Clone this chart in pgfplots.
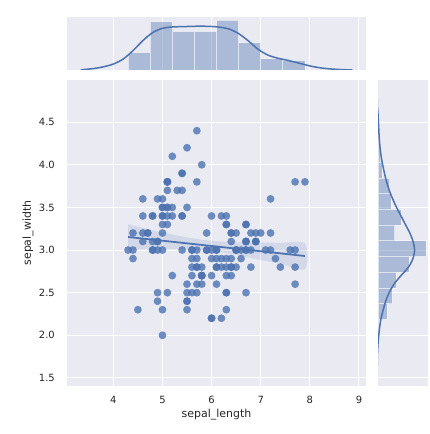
\documentclass[border=0pt]{standalone}
\usepackage{pgfplots}
\pgfplotsset{compat=1.18}
\usepackage{fontspec}
\setmainfont{DejaVu Sans}
\definecolor{sbbg}{HTML}{EAEAF2}
\definecolor{sbblue}{HTML}{4C72B0}
\definecolor{sbtext}{HTML}{262626}
\pgfplotsset{
  sbbase/.style={
    scale only axis,
    axis background/.style={fill=sbbg},
    axis line style={draw=none},
    major tick length=0pt,
    tick style={draw=none},
    major grid style={white, line width=1bp},
    ticklabel style={font=\fontsize{10}{12}\selectfont, text=sbtext, inner sep=0pt},
    label style={font=\fontsize{11}{13}\selectfont, text=sbtext},
  },
}
\begin{document}
\begin{tikzpicture}
\useasboundingbox (0,0) rectangle (430bp,434bp);
% main joint axis
\begin{axis}[sbbase,
  at={(67bp,48bp)}, anchor=south west,
  width=299bp, height=306bp,
  xmin=3.057, xmax=9.143, ymin=1.405, ymax=4.995,
  grid=major,
  xtick={4,5,6,7,8,9}, xticklabels={4,5,6,7,8,9},
  ytick={1.5,2.0,2.5,3.0,3.5,4.0,4.5},
  yticklabels={1.5,2.0,2.5,3.0,3.5,4.0,4.5},
  xticklabel style={anchor=center, yshift=-14bp},
  yticklabel style={anchor=east, xshift=-12bp},
  xlabel={sepal\_length}, ylabel={sepal\_width},
  x label style={at={(axis description cs:0.5,-0.0948)}, anchor=center},
  y label style={at={(axis description cs:-0.1304,0.5)}, anchor=center},
]
\addplot[only marks, color=sbblue, mark=*, mark size=3.9bp, mark options={draw=sbblue, fill=sbblue, draw opacity=0, fill opacity=0.8}] coordinates {
(5.1,3.5)(4.9,3.0)(4.7,3.2)(4.6,3.1)(5.0,3.6)(5.4,3.9)(4.6,3.4)(5.0,3.4)(4.4,2.9)(4.9,3.1)
(5.4,3.7)(4.8,3.4)(4.8,3.0)(4.3,3.0)(5.8,4.0)(5.7,4.4)(5.4,3.9)(5.1,3.5)(5.7,3.8)(5.1,3.8)
(5.4,3.4)(5.1,3.7)(4.6,3.6)(5.1,3.3)(4.8,3.4)(5.0,3.0)(5.0,3.4)(5.2,3.5)(5.2,3.4)(4.7,3.2)
(4.8,3.1)(5.4,3.4)(5.2,4.1)(5.5,4.2)(4.9,3.1)(5.0,3.2)(5.5,3.5)(4.9,3.6)(4.4,3.0)(5.1,3.4)
(5.0,3.5)(4.5,2.3)(4.4,3.2)(5.0,3.5)(5.1,3.8)(4.8,3.0)(5.1,3.8)(4.6,3.2)(5.3,3.7)(5.0,3.3)
(7.0,3.2)(6.4,3.2)(6.9,3.1)(5.5,2.3)(6.5,2.8)(5.7,2.8)(6.3,3.3)(4.9,2.4)(6.6,2.9)(5.2,2.7)
(5.0,2.0)(5.9,3.0)(6.0,2.2)(6.1,2.9)(5.6,2.9)(6.7,3.1)(5.6,3.0)(5.8,2.7)(6.2,2.2)(5.6,2.5)
(5.9,3.2)(6.1,2.8)(6.3,2.5)(6.1,2.8)(6.4,2.9)(6.6,3.0)(6.8,2.8)(6.7,3.0)(6.0,2.9)(5.7,2.6)
(5.5,2.4)(5.5,2.4)(5.8,2.7)(6.0,2.7)(5.4,3.0)(6.0,3.4)(6.7,3.1)(6.3,2.3)(5.6,3.0)(5.5,2.5)
(5.5,2.6)(6.1,3.0)(5.8,2.6)(5.0,2.3)(5.6,2.7)(5.7,3.0)(5.7,2.9)(6.2,2.9)(5.1,2.5)(5.7,2.8)
(6.3,3.3)(5.8,2.7)(7.1,3.0)(6.3,2.9)(6.5,3.0)(7.6,3.0)(4.9,2.5)(7.3,2.9)(6.7,2.5)(7.2,3.6)
(6.5,3.2)(6.4,2.7)(6.8,3.0)(5.7,2.5)(5.8,2.8)(6.4,3.2)(6.5,3.0)(7.7,3.8)(7.7,2.6)(6.0,2.2)
(6.9,3.2)(5.6,2.8)(7.7,2.8)(6.3,2.7)(6.7,3.3)(7.2,3.2)(6.2,2.8)(6.1,3.0)(6.4,2.8)(7.2,3.0)
(7.4,2.8)(7.9,3.8)(6.4,2.8)(6.3,2.8)(6.1,2.6)(7.7,3.0)(6.3,3.4)(6.4,3.1)(6.0,3.0)(6.9,3.1)
(6.7,3.1)(6.9,3.1)(5.8,2.7)(6.8,3.2)(6.7,3.3)(6.7,3.0)(6.3,2.5)(6.5,3.0)(6.2,3.4)(5.9,3.0)
};
% confidence band
\addplot[draw=none, fill=sbblue, fill opacity=0.15, smooth] coordinates {
(4.3,3.303)(4.8,3.232)(5.3,3.171)(5.84,3.118)(6.4,3.093)(6.9,3.090)(7.4,3.084)(7.9,3.078)
(7.9,2.778)(7.4,2.838)(6.9,2.895)(6.4,2.953)(5.84,2.998)(5.3,3.011)(4.8,3.012)(4.3,3.003)
} -- cycle;
% regression line
\addplot[sbblue, line width=1.75bp] coordinates {(4.3,3.153)(7.9,2.930)};
\end{axis}
% top marginal
\begin{axis}[sbbase,
  at={(67bp,364bp)}, anchor=south west,
  width=299bp, height=53bp,
  xmin=3.057, xmax=9.143, ymin=0, ymax=32.9,
  xmajorgrids, xtick={4,5,6,7,8,9}, xticklabels={},
  ytick=\empty,
]
\addplot[ybar interval, fill=sbblue, fill opacity=0.4, draw=white, draw opacity=0.6, line width=0.8bp] coordinates {
(4.3,11)(4.75,30)(5.2,24)(5.65,24)(6.1,31)(6.55,17)(7.0,7)(7.45,6)(7.9,6)
};
\addplot[sbblue, line width=1.5bp, smooth] coordinates {
(3.334,0.1)(3.6,0.9)(3.8,2.0)(4.0,3.7)(4.2,6.8)(4.4,12.0)(4.6,18.2)(4.8,23.2)(5.0,25.9)
(5.2,26.7)(5.5,27.0)(5.8,27.2)(6.1,26.8)(6.35,25.5)(6.55,22.6)(6.75,18.0)(6.95,12.8)
(7.15,9.2)(7.35,7.3)(7.55,6.0)(7.8,4.1)(8.05,2.2)(8.3,1.0)(8.6,0.3)(8.866,0.05)
};
\end{axis}
% right marginal
\begin{axis}[sbbase,
  at={(378bp,48bp)}, anchor=south west,
  width=50bp, height=306bp,
  xmin=0, xmax=38.5, ymin=1.405, ymax=4.995,
  ymajorgrids, ytick={1.5,2.0,2.5,3.0,3.5,4.0,4.5}, yticklabels={},
  xtick=\empty,
]
\addplot[xbar interval, fill=sbblue, fill opacity=0.4, draw=white, draw opacity=0.6, line width=0.8bp] coordinates {
(1,2.0)(7,2.1846)(11,2.3692)(14,2.5538)(24,2.7385)(37,2.9231)(13,3.1077)(18,3.2923)
(10,3.4769)(9,3.6615)(3,3.8462)(2,4.0308)(1,4.2154)(1,4.4)
};
\addplot[sbblue, line width=1.5bp, smooth] coordinates {
(-0.6,1.568)(-0.5,1.75)(0.0,1.9)(0.6,2.0)(1.3,2.1)(2.4,2.2)(4.0,2.3)(5.9,2.4)(8.6,2.5)
(12.3,2.6)(17.7,2.7)(23.5,2.8)(26.9,2.9)(28.2,3.0)(27.0,3.1)(24.5,3.2)(21.1,3.3)(17.7,3.4)
(14.3,3.5)(11.3,3.6)(8.7,3.7)(6.6,3.8)(5.0,3.9)(3.6,4.0)(2.4,4.1)(1.6,4.2)(1.0,4.3)
(0.5,4.45)(0.0,4.6)(-0.5,4.7)(-0.6,4.832)
};
\end{axis}
\end{tikzpicture}
\end{document}
